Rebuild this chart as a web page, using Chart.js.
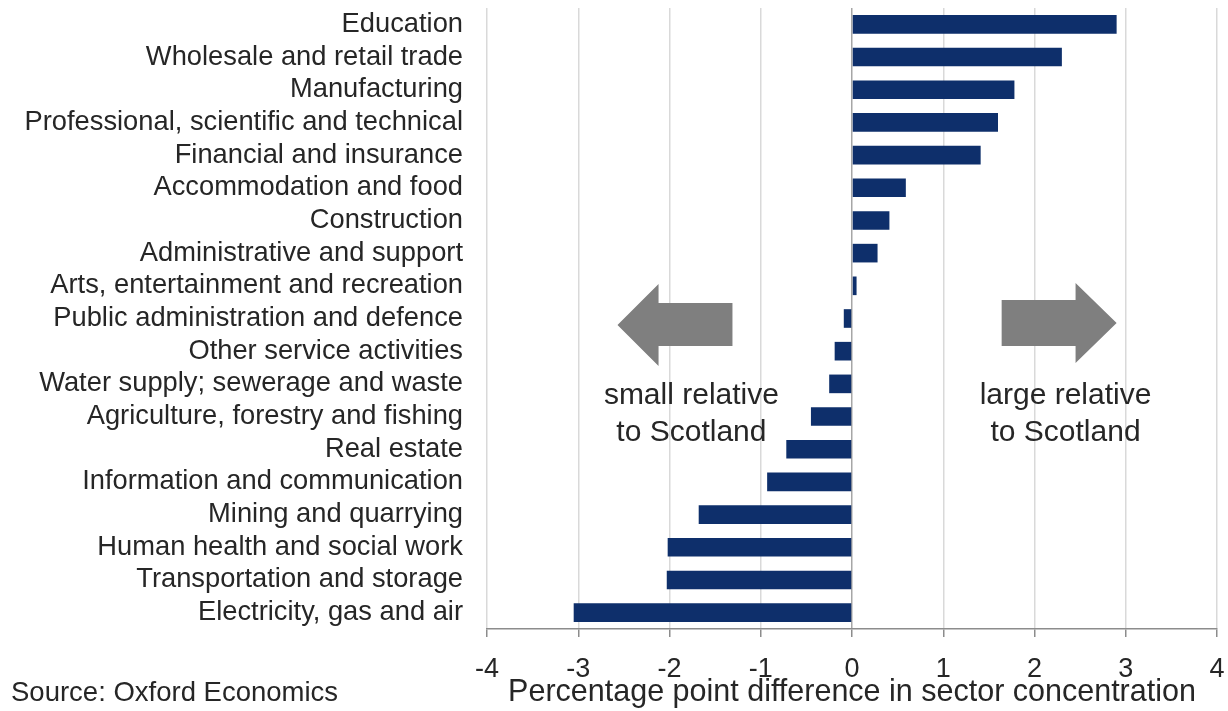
<!DOCTYPE html>
<html>
<head>
<meta charset="utf-8">
<script src="https://cdn.jsdelivr.net/npm/chart.js@4.4.0/dist/chart.umd.min.js"></script>
<style>
  html, body { margin: 0; padding: 0; background: #fff; }
  canvas { display: block; }
</style>
</head>
<body>
<canvas id="chart" width="1228" height="711"></canvas>
<script>
// sectors, top to bottom
const sectors = [
  'Education',
  'Wholesale and retail trade',
  'Manufacturing',
  'Professional, scientific and technical',
  'Financial and insurance',
  'Accommodation and food',
  'Construction',
  'Administrative and support',
  'Arts, entertainment and recreation',
  'Public administration and defence',
  'Other service activities',
  'Water supply; sewerage and waste',
  'Agriculture, forestry and fishing',
  'Real estate',
  'Information and communication',
  'Mining and quarrying',
  'Human health and social work',
  'Transportation and storage',
  'Electricity, gas and air'
];

// percentage point difference in sector concentration
const difference = [
  2.90, 2.30, 1.78, 1.60, 1.41, 0.59, 0.41, 0.28, 0.05,
  -0.09, -0.19, -0.25, -0.45, -0.72, -0.93, -1.68, -2.02, -2.03, -3.05
];

const xMin = -4;
const xMax = 4;
const xStep = 1;

const axisTitle = 'Percentage point difference in sector concentration';
const sourceNote = 'Source: Oxford Economics';
const leftNote = ['small relative', 'to Scotland'];
const rightNote = ['large relative', 'to Scotland'];

const FONT = '"Liberation Sans", Arial, sans-serif';
const TEXT = '#262626';

// arrows + side notes + source line
const notesPlugin = {
  id: 'notes',
  afterDraw(chart) {
    const ctx = chart.ctx;
    const x = chart.scales.x;
    const y = chart.scales.y;
    const step = y.getPixelForValue(1) - y.getPixelForValue(0);
    const rowY = i => y.getPixelForValue(0) + i * step;

    ctx.save();
    ctx.fillStyle = '#7f7f7f';

    // left arrow
    let tip = x.getPixelForValue(-2.57), base = x.getPixelForValue(-2.12), tail = x.getPixelForValue(-1.31);
    let cy = rowY(9.2);
    ctx.beginPath();
    ctx.moveTo(tip, cy);
    ctx.lineTo(base, cy - 41);
    ctx.lineTo(base, cy - 22);
    ctx.lineTo(tail, cy - 22);
    ctx.lineTo(tail, cy + 21);
    ctx.lineTo(base, cy + 21);
    ctx.lineTo(base, cy + 41);
    ctx.closePath();
    ctx.fill();

    // right arrow
    tip = x.getPixelForValue(2.90); base = x.getPixelForValue(2.45); tail = x.getPixelForValue(1.64);
    cy = rowY(9.14);
    ctx.beginPath();
    ctx.moveTo(tip, cy);
    ctx.lineTo(base, cy - 40);
    ctx.lineTo(base, cy - 23);
    ctx.lineTo(tail, cy - 23);
    ctx.lineTo(tail, cy + 23);
    ctx.lineTo(base, cy + 23);
    ctx.lineTo(base, cy + 40);
    ctx.closePath();
    ctx.fill();

    // side notes
    ctx.fillStyle = TEXT;
    ctx.font = '30px ' + FONT;
    ctx.textAlign = 'center';
    ctx.textBaseline = 'middle';
    leftNote.forEach((t, i) => ctx.fillText(t, x.getPixelForValue(-1.76), rowY(11.35 + i * 1.13)));
    rightNote.forEach((t, i) => ctx.fillText(t, x.getPixelForValue(2.34), rowY(11.35 + i * 1.13)));

    // source
    ctx.font = '27.5px ' + FONT;
    ctx.textAlign = 'left';
    ctx.fillText(sourceNote, 11, 693);
    ctx.restore();
  }
};

new Chart(document.getElementById('chart'), {
  type: 'bar',
  data: {
    labels: sectors,
    datasets: [{
      data: difference,
      backgroundColor: '#0e2f6b',
      borderWidth: 0,
      barPercentage: 0.57,
      categoryPercentage: 1
    }]
  },
  options: {
    indexAxis: 'y',
    animation: false,
    responsive: false,
    devicePixelRatio: 1,
    layout: { padding: { top: 8, right: 11, left: 0, bottom: 0 } },
    plugins: {
      legend: { display: false },
      tooltip: { enabled: false }
    },
    scales: {
      x: {
        min: xMin,
        max: xMax,
        afterFit: s => { s.height = 82; s.paddingLeft = 0; s.paddingRight = 0; },
        ticks: {
          stepSize: xStep,
          color: TEXT,
          padding: 16,
          font: { family: FONT, size: 27 }
        },
        grid: {
          color: c => (c.tick && c.tick.value === 0) ? '#a6a6a6' : '#d9d9d9',
          lineWidth: 1.5,
          tickLength: 8,
          tickColor: '#8c8c8c'
        },
        border: { color: '#8c8c8c', width: 1.5 },
        title: {
          display: true,
          text: axisTitle,
          color: TEXT,
          font: { family: FONT, size: 30.5 },
          padding: { top: 0, bottom: 0 }
        }
      },
      y: {
        afterFit: s => { s.width = 487; s.paddingTop = 0; s.paddingBottom = 0; },
        ticks: {
          autoSkip: false,
          color: TEXT,
          padding: 24,
          font: { family: FONT, size: 27.3 }
        },
        grid: { display: false, drawTicks: false, tickLength: 0 },
        border: { display: false }
      }
    }
  },
  plugins: [notesPlugin]
});
</script>
</body>
</html>
